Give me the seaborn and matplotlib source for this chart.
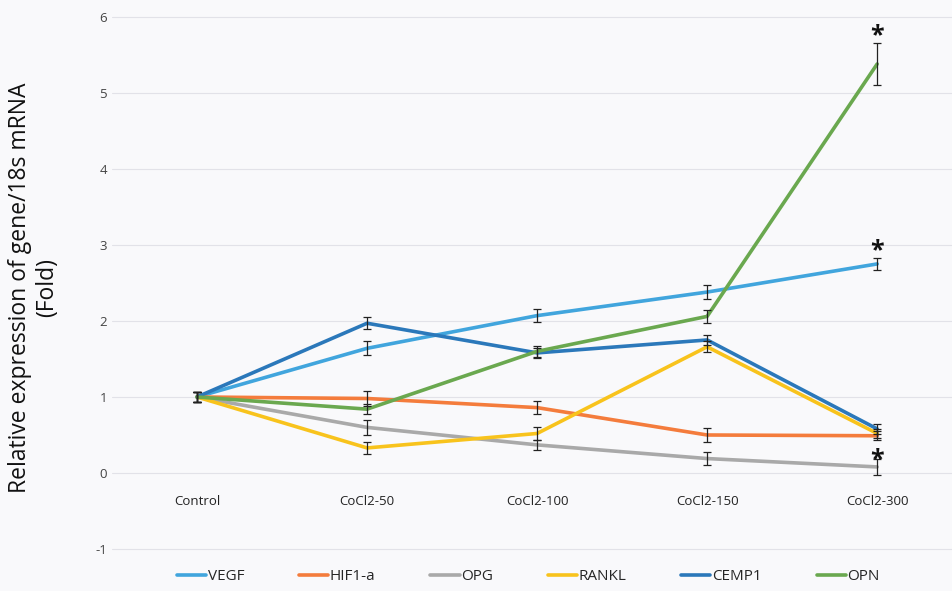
import numpy as np
import pandas as pd
import matplotlib
matplotlib.use('Agg')
import matplotlib.pyplot as plt
import seaborn as sns

# Values
groups = ['Control', 'CoCl2-50', 'CoCl2-100', 'CoCl2-150', 'CoCl2-300']
genes = ['VEGF', 'HIF1-a', 'OPG', 'RANKL', 'CEMP1', 'OPN']

vegf = [1.0, 1.64, 2.07, 2.38, 2.75]
hif1a = [1.0, 0.98, 0.86, 0.50, 0.49]
opg = [1.0, 0.60, 0.37, 0.19, 0.08]
rankl = [1.0, 0.33, 0.52, 1.66, 0.52]
cemp1 = [1.0, 1.97, 1.58, 1.75, 0.58]
opn = [1.0, 0.84, 1.60, 2.06, 5.38]

vegf_err = [0.07, 0.09, 0.09, 0.09, 0.08]
hif1a_err = [0.06, 0.10, 0.09, 0.09, 0.06]
opg_err = [0.06, 0.10, 0.07, 0.09, 0.10]
rankl_err = [0.06, 0.08, 0.09, 0.07, 0.06]
cemp1_err = [0.06, 0.08, 0.07, 0.07, 0.07]
opn_err = [0.06, 0.07, 0.07, 0.09, 0.28]

values = [vegf, hif1a, opg, rankl, cemp1, opn]
errors = [vegf_err, hif1a_err, opg_err, rankl_err, cemp1_err, opn_err]
colors = ['#41a5dd', '#f47c3c', '#a9a9a9', '#f8c31c', '#2b78ba', '#6aa84f']

# significance marks: (group index, y value)
stars = [(4, 5.75), (4, 2.92), (4, 0.18)]

rows = []
for g, vals in zip(genes, values):
    for grp, v in zip(groups, vals):
        rows.append({'group': grp, 'gene': g, 'value': v})
df = pd.DataFrame(rows)

sns.set_style("white")
plt.rcParams['font.family'] = ['Open Sans', 'DejaVu Sans']
plt.rcParams['axes.unicode_minus'] = False

fig = plt.figure(figsize=(9.52, 5.91), dpi=100, facecolor='#f9f9fb')
ax = fig.add_axes([112 / 952, 1 - 565 / 591, 840 / 952, 555 / 591])
ax.set_facecolor('#f9f9fb')

for y in range(-1, 7):
    ax.axhline(y, color='#e2e2e8', lw=0.8, zorder=0)

sns.lineplot(data=df, x='group', y='value', hue='gene', hue_order=genes,
             palette=colors, linewidth=2.6, sort=False, ax=ax, zorder=2)

xs = np.arange(len(groups))
for vals, errs in zip(values, errors):
    ax.errorbar(xs, vals, yerr=errs, fmt='none', ecolor='#222222',
                elinewidth=0.9, capsize=3, capthick=0.9, zorder=3)

for gi, yv in stars:
    ax.text(gi, yv, '*', ha='center', va='center', fontsize=18,
            fontweight='bold', color='#111111', zorder=4)

ax.set_xlim(-0.5, 4.44)
ax.set_ylim(-1.21, 6.09)
ax.set_yticks(range(-1, 7))
ax.spines['bottom'].set_position(('data', 0))
ax.tick_params(axis='both', length=0, labelsize=9.5, colors='#444444')
ax.tick_params(axis='x', pad=16, colors='#222222')
for s in ax.spines.values():
    s.set_visible(False)
ax.set_xlabel('')
ax.set_ylabel('Relative expression of gene/18s mRNA\n(Fold)', fontsize=16.5,
              color='#111111', labelpad=26)

ax.get_legend().remove()
handles, labels = ax.get_legend_handles_labels()
leg = fig.legend(handles, labels, loc='center', bbox_to_anchor=(0.555, 0.024),
                 ncol=6, frameon=False, fontsize=11, handlelength=1.9,
                 handletextpad=0.1, columnspacing=3.6)
for line in leg.get_lines():
    line.set_linewidth(2.6)

fig.savefig('out.png', dpi=100, facecolor=fig.get_facecolor())
